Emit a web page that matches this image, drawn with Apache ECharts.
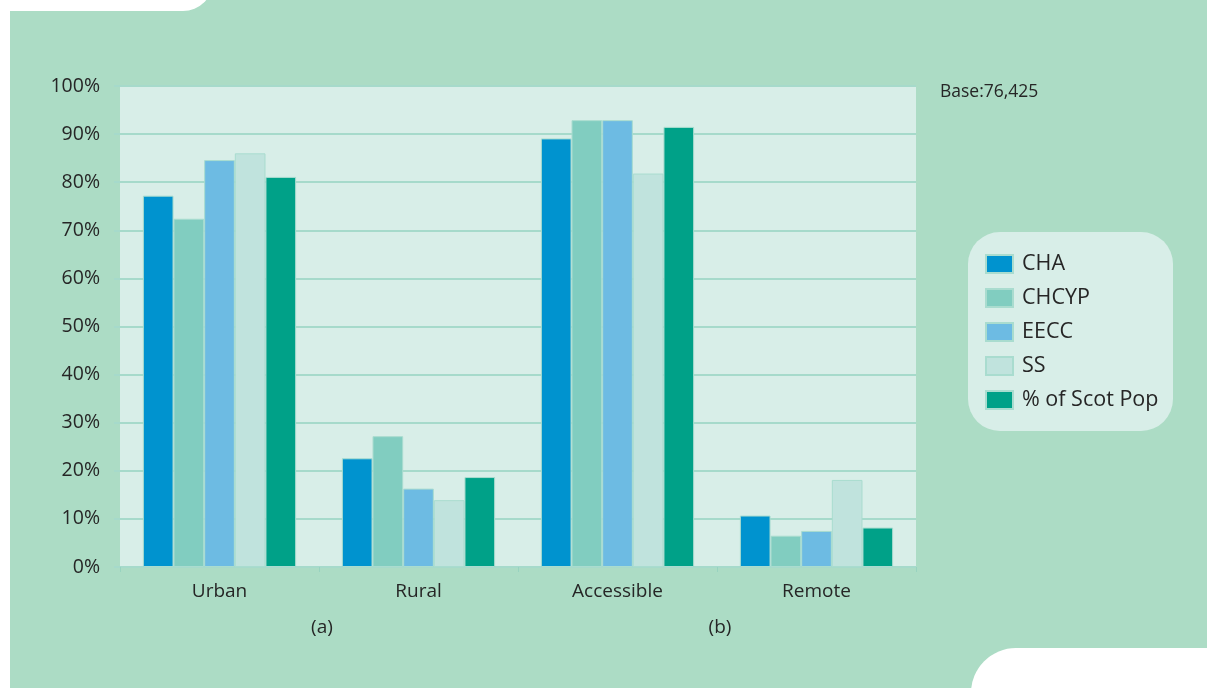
<!DOCTYPE html>
<html>
<head>
<meta charset="utf-8">
<style>
html,body{margin:0;padding:0;background:#fff;}
#chart{width:1207px;height:688px;}
</style>
<script src="https://cdn.jsdelivr.net/npm/echarts@6/dist/echarts.min.js"></script>
</head>
<body>
<div id="chart"></div>
<script>
const categories = ['Urban', 'Rural', 'Accessible', 'Remote'];
const seriesNames = ['CHA', 'CHCYP', 'EECC', 'SS', '% of Scot Pop'];
const CHA = [77.2, 22.6, 89.1, 10.7];
const CHCYP = [72.4, 27.2, 92.9, 6.5];
const EECC = [84.6, 16.3, 92.9, 7.5];
const SS = [86.0, 13.9, 81.8, 18.1];
const scotPop = [81.1, 18.7, 91.5, 8.2];
const groupLabels = ['(a)', '(b)'];
const baseText = 'Base:76,425';

const colors = ['#0093cf', '#81cdc0', '#6dbbe3', '#c0e3dd', '#00a188'];
const values = [CHA, CHCYP, EECC, SS, scotPop];
const FONT = '"Open Sans", "Liberation Sans", sans-serif';
const TXT = '#262626';

const chart = echarts.init(document.getElementById('chart'), null, {renderer: 'canvas'});

const series = seriesNames.map((n, i) => ({
  name: n,
  type: 'bar',
  data: values[i],
  barGap: '0%',
  barCategoryGap: '23%',
  itemStyle: {color: colors[i], borderColor: '#a9dccf', borderWidth: 1},
  emphasis: {disabled: true}
}));

chart.setOption({
  backgroundColor: '#ffffff',
  animation: false,
  textStyle: {fontFamily: FONT},
  graphic: [
    {type: 'rect', z: -10, shape: {x: 10, y: 0, width: 1260, height: 740, r: [0, 0, 0, 42]}, style: {fill: '#acdcc5'}},
    {type: 'rect', z: -9, shape: {x: -40, y: -60, width: 253, height: 71, r: [0, 0, 30, 0]}, style: {fill: '#ffffff'}},
    {type: 'rect', z: -9, shape: {x: 971, y: 648, width: 300, height: 100, r: [45, 0, 0, 0]}, style: {fill: '#ffffff'}},
    {type: 'rect', z: -5, shape: {x: 968, y: 232, width: 205, height: 199, r: 32}, style: {fill: '#d8eee8'}},
    {type: 'text', x: 940, y: 92, style: {text: baseText, font: '17.5px ' + FONT, fill: TXT, textVerticalAlign: 'middle'}},
    {type: 'text', x: 322, y: 628, style: {text: groupLabels[0], font: '19px ' + FONT, fill: TXT, textAlign: 'center', textVerticalAlign: 'middle'}},
    {type: 'text', x: 720, y: 628, style: {text: groupLabels[1], font: '19px ' + FONT, fill: TXT, textAlign: 'center', textVerticalAlign: 'middle'}}
  ],
  legend: {
    orient: 'vertical',
    left: 985,
    top: 253,
    padding: 0,
    itemWidth: 27,
    itemHeight: 18,
    itemGap: 12,
    icon: 'rect',
    selectedMode: false,
    textStyle: {fontSize: 21.5, color: TXT, fontFamily: FONT, padding: [0, 0, 0, 4]},
    data: seriesNames
  },
  grid: {
    left: 120, right: 291, top: 86, bottom: 121,
    show: true, backgroundColor: '#d8eee8', borderWidth: 0
  },
  xAxis: {
    type: 'category',
    data: categories,
    axisLine: {show: false},
    axisTick: {show: true, length: 5, lineStyle: {color: '#98d3c0', width: 1}},
    axisLabel: {fontSize: 19, color: TXT, margin: 15, fontFamily: FONT}
  },
  yAxis: {
    type: 'value',
    min: 0, max: 100, interval: 10,
    axisLine: {show: false},
    axisTick: {show: true, length: 6, lineStyle: {color: '#a6dacb', width: 2}},
    axisLabel: {formatter: '{value}%', fontSize: 19.5, color: TXT, margin: 20, fontFamily: FONT},
    splitLine: {show: true, lineStyle: {color: '#a6dacb', width: 2}}
  },
  series: series
});
</script>
</body>
</html>
